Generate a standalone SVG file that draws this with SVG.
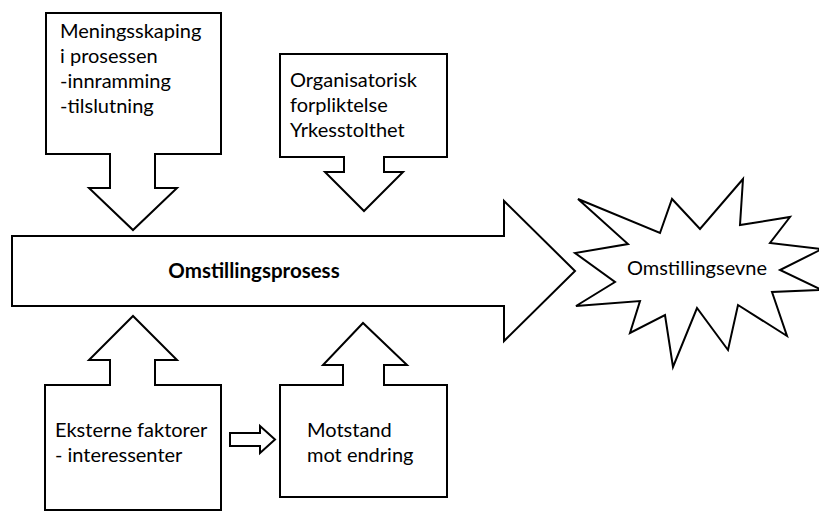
<svg xmlns="http://www.w3.org/2000/svg" width="819" height="512" viewBox="0 0 819 512">
  <style>
    .shape { fill: #ffffff; stroke: #000000; stroke-width: 2; stroke-linejoin: miter; }
    .t { font-family: Lato, "Open Sans", "Liberation Sans", sans-serif; font-size: 20px; fill: #000000; }
    .b { font-weight: bold; font-size: 20.5px; }
  </style>
  <rect width="819" height="512" fill="#ffffff"/>

  <g id="meningsskaping">
    <path class="shape" d="M46,13 H221 V154 H155 V188 H177 L133,230 L89,188 H110 V154 H46 Z"/>
    <text class="t" x="60" y="38">Meningsskaping</text>
    <text class="t" x="60" y="63">i prosessen</text>
    <text class="t" x="60" y="88">-innramming</text>
    <text class="t" x="60" y="113">-tilslutning</text>
  </g>

  <g id="organisatorisk">
    <path class="shape" d="M280,54 H447 V157 H384 V172 H403 L364,211 L325,172 H344 V157 H280 Z"/>
    <text class="t" x="290" y="87">Organisatorisk</text>
    <text class="t" x="290" y="112">forpliktelse</text>
    <text class="t" x="290" y="137">Yrkesstolthet</text>
  </g>

  <g id="omstillingsprosess">
    <path class="shape" d="M12,236 H504 V201 L575,271 L504,341 V306 H12 Z"/>
    <text class="t b" x="254" y="278" text-anchor="middle">Omstillingsprosess</text>
  </g>

  <g id="omstillingsevne">
    <path class="shape" d="M578,199 L660,233 L672,199 L700,229 L743,179 L740,225 L790,217 L770,243 L822,249 L780,270 L822,290 L772,292 L787,336 L738,305 L728,350 L697,308 L673,367 L665,315 L630,333 L640,301 L576,306 L615,282 L575,253 L628,244 Z"/>
    <text class="t" x="697" y="275" text-anchor="middle">Omstillingsevne</text>
  </g>

  <g id="eksterne">
    <path class="shape" d="M45,385 H110 V360 H89 L133,316 L177,360 H155 V385 H221 V510 H45 Z"/>
    <text class="t" x="55" y="437">Eksterne faktorer</text>
    <text class="t" x="55" y="462">- interessenter</text>
  </g>

  <g id="motstand">
    <path class="shape" d="M280,385 H343 V365 H323 L363,323 L407,365 H384 V385 H447 V497 H280 Z"/>
    <text class="t" x="307" y="437">Motstand</text>
    <text class="t" x="307" y="462">mot endring</text>
  </g>

  <g id="connectors">
    <path class="shape" d="M230,433 H260 V426 L275,439.5 L260,453 V446 H230 Z"/>
  </g>
</svg>
